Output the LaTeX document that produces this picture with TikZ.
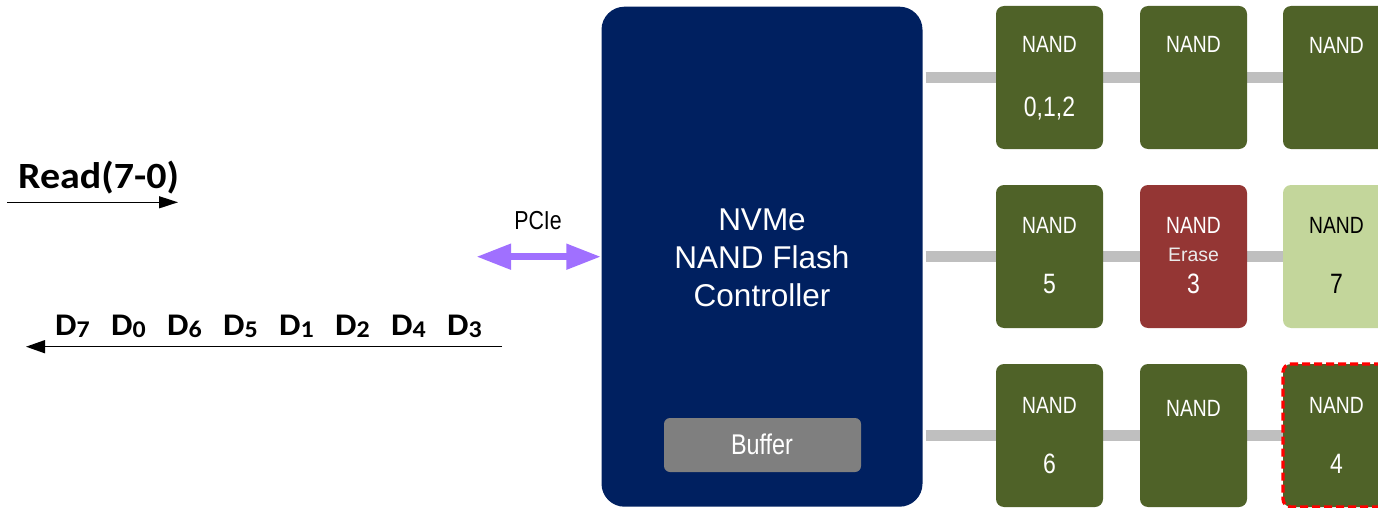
\documentclass[tikz,border=0pt]{standalone}
\usepackage{fontspec}
\setmainfont{Liberation Sans}
\newfontfamily\narrowfont[FakeStretch=0.82]{Liberation Sans}
\newfontfamily\calibrifont[FakeStretch=1.08,Numbers=Lining]{Carlito}
\usetikzlibrary{arrows.meta,backgrounds}
\definecolor{ctrlblue}{HTML}{002060}
\definecolor{nandgreen}{HTML}{4F6228}
\definecolor{nandred}{HTML}{943634}
\definecolor{nandlight}{HTML}{C3D69B}
\definecolor{bargray}{HTML}{BFBFBF}
\definecolor{bufgray}{HTML}{7F7F7F}
\definecolor{pciepurple}{HTML}{A070FF}
\newcommand{\dsub}[1]{\makebox[56pt][l]{D\raisebox{-2.5pt}{\fontsize{24}{24}\selectfont #1}}}
\begin{document}
\begin{tikzpicture}[x=1pt,y=-1pt,
  nandbox/.style={rectangle,rounded corners=8pt,inner sep=0pt,minimum width=107pt,minimum height=143pt,fill=nandgreen},
  nandtxt/.style={anchor=base,inner sep=0pt,text=white,font=\narrowfont\fontsize{23.5}{28}\selectfont},
  numtxt/.style={anchor=base,inner sep=0pt,text=white,font=\narrowfont\fontsize{28}{32}\selectfont},
  ctltxt/.style={anchor=base,inner sep=0pt,text=white,font=\fontsize{31.5}{38}\selectfont},
  bar/.style={draw=bargray,line width=11.5pt},
  thinarrow/.style={draw=black,line width=1.3pt,-{Triangle[length=19pt,width=12pt]}},
  boldlabel/.style={anchor=base west,inner sep=0pt,font=\calibrifont\bfseries\fontsize{37}{40}\selectfont}
]
\useasboundingbox (0,0) rectangle (1378,508);
\clip (0,0) rectangle (1378,508);

% controller
\node[rectangle,rounded corners=23pt,fill=ctrlblue,inner sep=0pt,minimum width=321pt,minimum height=500pt] (ctrl) at (762,256.7) {};
\node[ctltxt] (ctl1) at (762,230) {NVMe};
\node[ctltxt] (ctl2) at (762,268.3) {NAND Flash};
\node[ctltxt] (ctl3) at (762,306) {Controller};
\node[rectangle,rounded corners=6pt,fill=bufgray,inner sep=0pt,minimum width=197pt,minimum height=54pt] (buf) at (762.5,445) {};
\node[anchor=base,inner sep=0pt,text=white,font=\narrowfont\fontsize{28.5}{32}\selectfont] (buftxt) at (762,454) {Buffer};

% NAND boxes
\node[nandbox] (n11) at (1049.5,77.5) {};
\node[nandbox] (n12) at (1193.5,77.5) {};
\node[nandbox] (n13) at (1336.5,77.5) {};
\node[nandbox] (n21) at (1049.5,256.5) {};
\node[nandbox,fill=nandred] (n22) at (1193.5,256.5) {};
\node[nandbox,fill=nandlight] (n23) at (1336.5,256.5) {};
\node[nandbox] (n31) at (1049.5,435.5) {};
\node[nandbox] (n32) at (1193.5,435.5) {};
\node[nandbox,draw=red,line width=3.3pt,dash pattern=on 8pt off 4pt] (n33) at (1336.5,435.5) {};

% bars behind
\begin{pgfonlayer}{background}
\draw[bar] ([xshift=3pt]ctrl.east |- n11.center) -- (n13.center);
\draw[bar] ([xshift=3pt]ctrl.east |- n21.center) -- (n23.center);
\draw[bar] ([xshift=3pt]ctrl.east |- n31.center) -- (n33.center);
\end{pgfonlayer}

% NAND texts
\node[nandtxt] (t11a) at (1049.5,52.3) {NAND};
\node[numtxt] (t11b) at (1049.5,116.7) {0,1,2};
\node[nandtxt] (t12a) at (1193.5,52.3) {NAND};
\node[nandtxt] (t13a) at (1336.5,54) {NAND};
\node[nandtxt] (t21a) at (1049.5,233.3) {NAND};
\node[numtxt] (t21b) at (1049.5,293.3) {5};
\node[nandtxt] (t22a) at (1193.5,233.3) {NAND};
\node[anchor=base,inner sep=0pt,text=white!92!black,font=\fontsize{19.5}{22}\selectfont] (t22e) at (1193.5,261.7) {Erase};
\node[numtxt] (t22b) at (1193.5,293.3) {3};
\node[nandtxt,text=black] (t23a) at (1336.5,233.3) {NAND};
\node[numtxt,text=black] (t23b) at (1336.5,293.3) {7};
\node[nandtxt] (t31a) at (1049.5,413.3) {NAND};
\node[numtxt] (t31b) at (1049.5,473.3) {6};
\node[nandtxt] (t32a) at (1193.5,416) {NAND};
\node[nandtxt] (t33a) at (1336.5,413.3) {NAND};
\node[numtxt] (t33b) at (1336.5,473.3) {4};

% PCIe
\node[anchor=base,inner sep=0pt,font=\narrowfont\fontsize{26}{30}\selectfont] (pcie) at (538,229.3) {PCIe};
\coordinate (pcieL) at (476,256.7);
\draw[pciepurple,line width=7.5pt,{Triangle[length=35pt,width=24pt]}-{Triangle[length=35pt,width=24pt]}] (pcieL) -- (ctrl.west |- pcieL);

% Read
\node[boldlabel] (read) at (18,188) {Read(7-0)};
\coordinate (readS) at (7,202.3);
\coordinate (readE) at (178,202.3);
\draw[thinarrow] (readS) -- (readE);

% Data
\node[boldlabel,font=\calibrifont\bfseries\fontsize{31.5}{34}\selectfont] (data) at (55,335)
 {\dsub{7}\dsub{0}\dsub{6}\dsub{5}\dsub{1}\dsub{2}\dsub{4}D\raisebox{-2.5pt}{\fontsize{24}{24}\selectfont 3}};
\coordinate (dataS) at (502,346.7);
\coordinate (dataE) at (26,346.7);
\draw[thinarrow,-{Triangle[length=19pt,width=13pt]}] (dataS) -- (dataE);
\end{tikzpicture}
\end{document}
